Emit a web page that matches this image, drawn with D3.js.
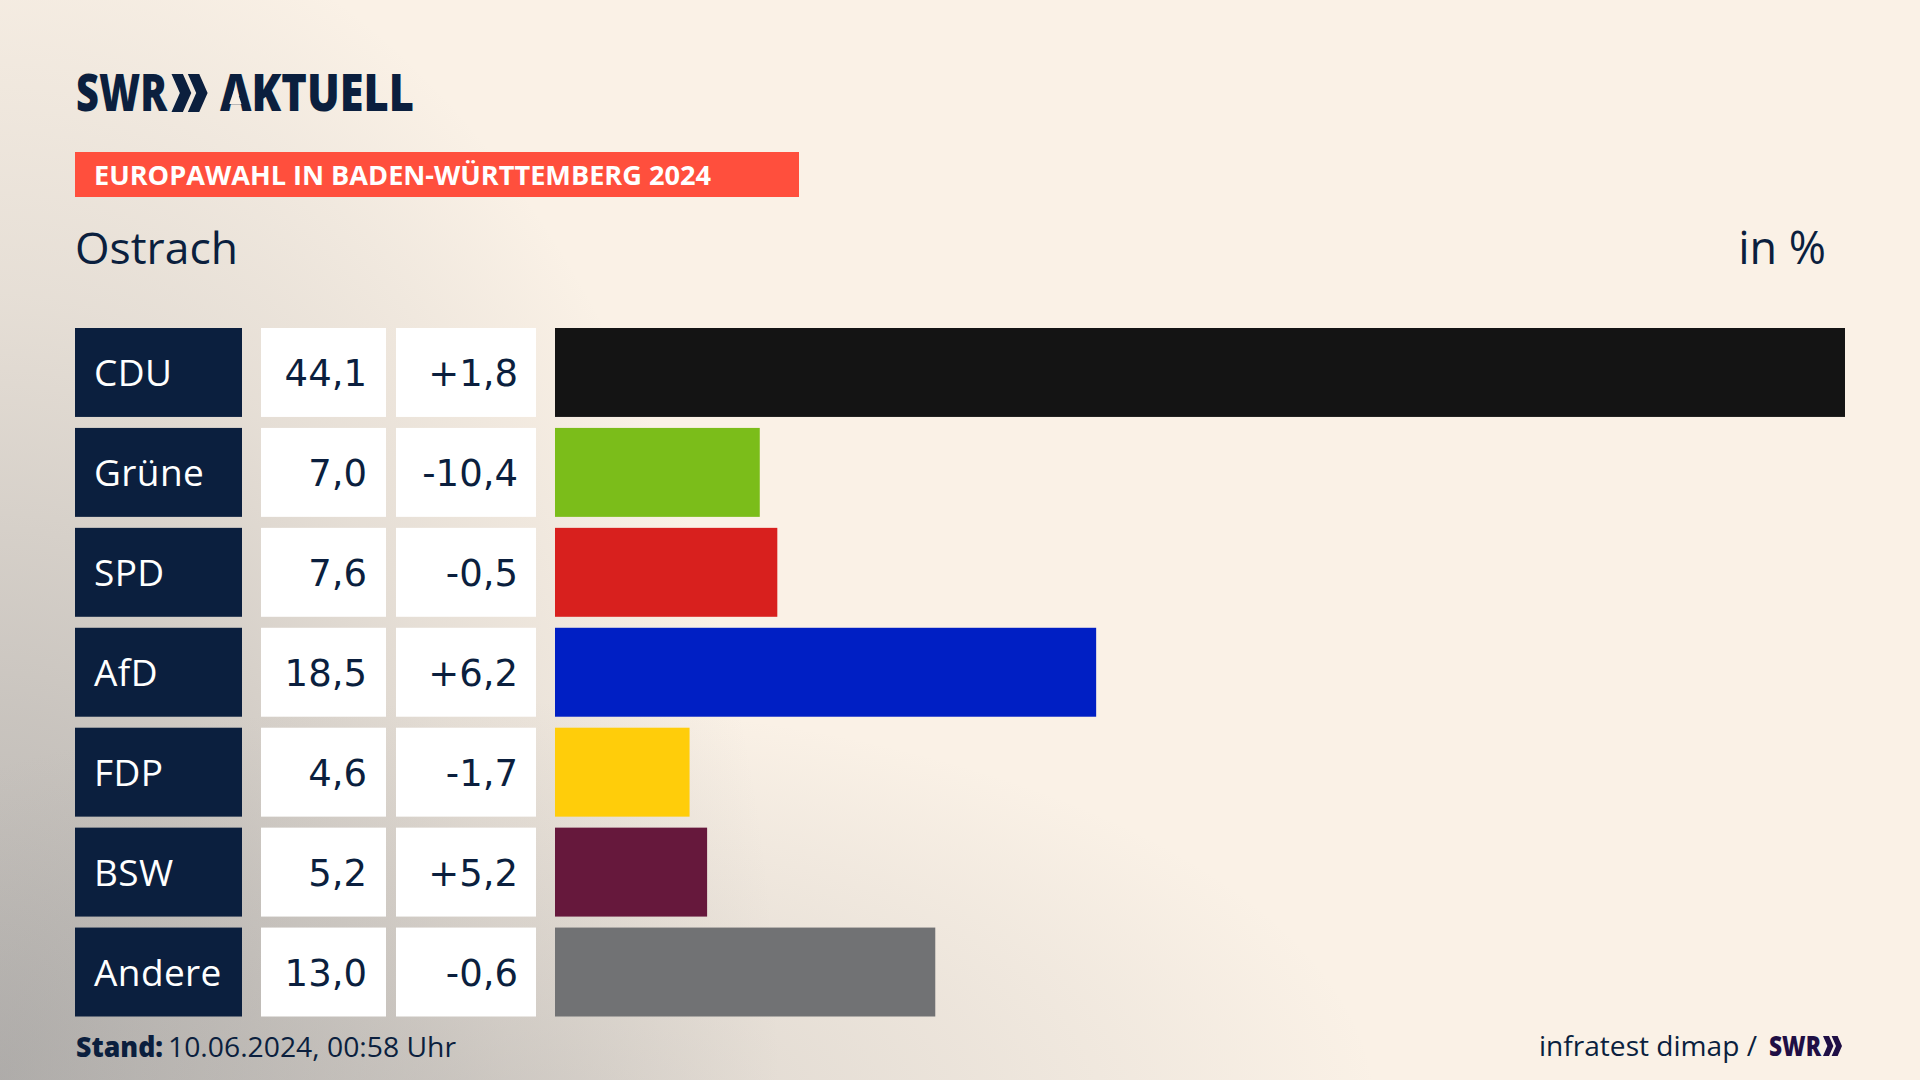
<!DOCTYPE html>
<html lang="de">
<head>
<meta charset="utf-8">
<title>Europawahl Ostrach</title>
<script src="https://cdn.jsdelivr.net/npm/d3@7"></script>
<style>
	html, body { margin: 0; padding: 0; background: #faf1e6; overflow: hidden; }
	text { font-family: "Open Sans", "Noto Sans", sans-serif; }
</style>
</head>
<body>
<div id="chart"></div>
<script>
const parties = ["CDU", "Grüne", "SPD", "AfD", "FDP", "BSW", "Andere"];
const shares = [44.1, 7.0, 7.6, 18.5, 4.6, 5.2, 13.0];
const changes = [1.8, -10.4, -0.5, 6.2, -1.7, 5.2, -0.6];
const barColors = ["#141414", "#7bbd1a", "#d8201e", "#001fc4", "#ffcd0a", "#66183c", "#717274"];

const navy = "#0b1f3e";
const width = 1920, height = 1080;

const fmt = v => v.toFixed(1).replace(".", ",");
const fmtChange = v => (v > 0 ? "+" : "") + fmt(v);

const svg = d3.select("#chart").append("svg")
	.attr("width", width)
	.attr("height", height)
	.style("display", "block");

// background, cream with grey glow along the left edge and the bottom
const defs = svg.append("defs");
function addGlow(id, transform, stops) {
	const g = defs.append("radialGradient")
		.attr("id", id)
		.attr("gradientUnits", "userSpaceOnUse")
		.attr("cx", 0).attr("cy", 0).attr("r", 1)
		.attr("gradientTransform", transform);
	stops.forEach(s => {
		g.append("stop").attr("offset", s[0]).attr("stop-color", "#8f8f90").attr("stop-opacity", s[1]);
	});
}
addGlow("glowLeft", "translate(0,1080) scale(780,1200)", [[0, 0.66], [0.3, 0.46], [0.65, 0.19], [1, 0]]);
addGlow("glowBottom", "translate(480,1110) scale(900,410)", [[0, 0.3], [0.5, 0.15], [1, 0]]);
svg.append("rect").attr("width", width).attr("height", height).attr("fill", "#faf1e6");
svg.append("rect").attr("width", width).attr("height", height).attr("fill", "url(#glowLeft)");
svg.append("rect").attr("width", width).attr("height", height).attr("fill", "url(#glowBottom)");

function chevrons(x, y, h, color) {
	// the two arrows of the SWR logo
	const w = h * 0.22, t = h * 0.3;
	const g = svg.append("g").attr("transform", "translate(" + x + "," + y + ")").attr("fill", color);
	[0, h * 0.43].forEach(dx => {
		g.append("path").attr("d", "M" + dx + ",0 L" + (dx + t) + ",0 L" + (dx + t + w) + "," + (h / 2) +
			" L" + (dx + t) + "," + h + " L" + dx + "," + h + " L" + (dx + w) + "," + (h / 2) + "Z");
	});
}

// logo
svg.append("text").attr("x", 76).attr("y", 111)
	.attr("font-size", 51).attr("font-weight", 800).attr("fill", navy)
	.attr("textLength", 91).attr("lengthAdjust", "spacingAndGlyphs")
	.text("SWR");
chevrons(171.5, 74, 38, navy);
svg.append("text").attr("x", 220).attr("y", 111)
	.attr("font-size", 51).attr("font-weight", 800).attr("fill", navy)
	.attr("textLength", 194).attr("lengthAdjust", "spacingAndGlyphs")
	.text("AKTUELL");
// the logo's A has no crossbar
svg.append("path").attr("d", "M235.4,86 L241.5,104 L229.3,104Z").attr("fill", "#f8f0e5");

// headline
svg.append("rect").attr("x", 75).attr("y", 152).attr("width", 724).attr("height", 45).attr("fill", "#ff4f3d");
svg.append("text").attr("x", 94).attr("y", 185)
	.attr("font-size", 27).attr("font-weight", 700).attr("fill", "#fff")
	.attr("textLength", 617).attr("lengthAdjust", "spacingAndGlyphs")
	.text("EUROPAWAHL IN BADEN-WÜRTTEMBERG 2024");

svg.append("text").attr("x", 75).attr("y", 264)
	.attr("font-size", 44).attr("fill", navy)
	.attr("textLength", 163).attr("lengthAdjust", "spacingAndGlyphs")
	.text("Ostrach");
svg.append("text").attr("x", 1826).attr("y", 264)
	.attr("font-size", 45).attr("fill", navy).attr("text-anchor", "end")
	.text("in %");

// rows
const y = d3.scaleBand().domain(parties).range([328, 1016.5]).paddingInner(0.11).paddingOuter(0);
const x = d3.scaleLinear().domain([0, d3.max(shares)]).range([0, 1290]);

const rows = svg.selectAll("g.row")
	.data(parties)
	.enter().append("g")
	.attr("class", "row")
	.attr("transform", d => "translate(0," + y(d) + ")");

rows.append("rect").attr("x", 75).attr("width", 167).attr("height", y.bandwidth()).attr("fill", navy);
rows.append("rect").attr("x", 261).attr("width", 125).attr("height", y.bandwidth()).attr("fill", "#fff");
rows.append("rect").attr("x", 396).attr("width", 140).attr("height", y.bandwidth()).attr("fill", "#fff");
rows.append("rect").attr("x", 555)
	.attr("width", (d, i) => x(shares[i]))
	.attr("height", y.bandwidth())
	.attr("fill", (d, i) => barColors[i]);

rows.append("text").attr("x", 94).attr("y", 58)
	.attr("font-size", 37).attr("letter-spacing", 0.4).attr("fill", "#fff")
	.text(d => d);
rows.append("text").attr("x", 367).attr("y", 58)
	.attr("font-size", 37).attr("fill", navy).attr("text-anchor", "end")
	.style("font-family", "'DejaVu Sans', sans-serif")
	.text((d, i) => fmt(shares[i]));
rows.append("text").attr("x", 518).attr("y", 58)
	.attr("font-size", 37).attr("fill", navy).attr("text-anchor", "end")
	.style("font-family", "'DejaVu Sans', sans-serif")
	.text((d, i) => fmtChange(changes[i]));

// footer
svg.append("text").attr("x", 76).attr("y", 1057)
	.attr("font-size", 28).attr("font-weight", 800).attr("fill", navy)
	.attr("textLength", 87).attr("lengthAdjust", "spacingAndGlyphs")
	.text("Stand:");
svg.append("text").attr("x", 168).attr("y", 1057)
	.attr("font-size", 28).attr("fill", navy)
	.attr("textLength", 288).attr("lengthAdjust", "spacingAndGlyphs")
	.text("10.06.2024, 00:58 Uhr");
svg.append("text").attr("x", 1539).attr("y", 1056)
	.attr("font-size", 28).attr("fill", navy)
	.attr("textLength", 218).attr("lengthAdjust", "spacingAndGlyphs")
	.text("infratest dimap /");
svg.append("text").attr("x", 1769).attr("y", 1056)
	.attr("font-size", 28).attr("font-weight", 800).attr("fill", "#1f0f45")
	.attr("textLength", 52).attr("lengthAdjust", "spacingAndGlyphs")
	.text("SWR");
chevrons(1823, 1036, 20, "#1f0f45");
</script>
</body>
</html>
